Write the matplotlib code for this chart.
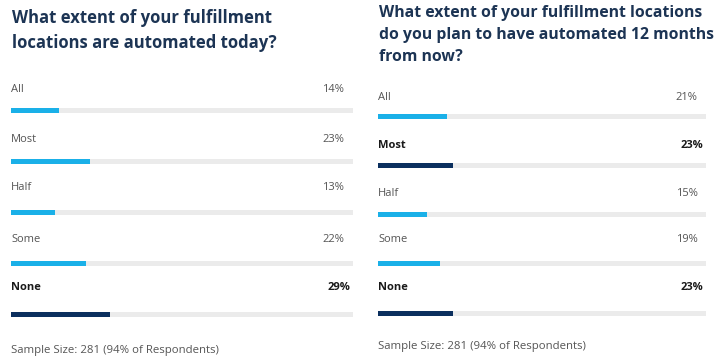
import matplotlib
matplotlib.use('Agg')
import matplotlib.pyplot as plt

plt.rcParams['font.family'] = ['Open Sans', 'DejaVu Sans']

# Survey answers, shared by both panels
categories = ['All', 'Most', 'Half', 'Some', 'None']

# Panel 1: today
today_title = 'What extent of your fulfillment\nlocations are automated today?'
today_values = [14, 23, 13, 22, 29]
today_highlight = [False, False, False, False, True]

# Panel 2: 12 months from now
plan_title = 'What extent of your fulfillment locations\ndo you plan to have automated 12 months\nfrom now?'
plan_values = [21, 23, 15, 19, 23]
plan_highlight = [False, True, False, False, True]

sample_note = 'Sample Size: 281 (94% of Respondents)'

LIGHT = '#1ab0e8'
DARK = '#0b2f5e'
TRACK = '#ebebeb'
TITLE_C = '#1c3454'
TEXT_C = '#555555'
BOLD_C = '#1a1a1a'

W, H = 718, 362
fig = plt.figure(figsize=(W / 100, H / 100), dpi=100)
fig.patch.set_facecolor('white')


# one axes per panel: x is percent of the track, y is figure pixels
def panel(x0, x1, title, title_y, title_size, values, highlight, label_y, bar_y, note_y):
    ax = fig.add_axes([x0 / W, 0, (x1 - x0) / W, 1])
    ax.set_xlim(0, 100)
    ax.set_ylim(H, 0)
    ax.axis('off')
    ax.barh(bar_y, [100] * len(values), height=5, color=TRACK)
    ax.barh(bar_y, values, height=5,
            color=[DARK if h else LIGHT for h in highlight])
    ax.text(0.3, title_y, title, fontsize=title_size, fontweight='bold', color=TITLE_C,
            va='top', ha='left', linespacing=1.5, clip_on=False)
    for cat, v, h, y in zip(categories, values, highlight, label_y):
        col = BOLD_C if h else TEXT_C
        wt = 'bold' if h else 'normal'
        ax.text(0, y, cat, fontsize=8, color=col, fontweight=wt,
                va='center', ha='left')
        ax.text(99.2 if h else 97.4, y, f'{v}%', fontsize=8, color=col,
                fontweight=wt, va='center', ha='right', clip_on=False)
    ax.text(0, note_y, sample_note, fontsize=8.2, color=TEXT_C,
            va='center', ha='left')
    return ax


panel(11, 353, today_title, 9, 12, today_values, today_highlight,
      [89, 139, 188, 239, 288], [110, 161, 212, 263, 314], 350)
panel(378, 706, plan_title, 5, 11.3, plan_values, plan_highlight,
      [98, 145, 193, 239, 287], [116, 165, 214, 263, 313], 347)

fig.savefig('out.png', dpi=100, facecolor='white')
